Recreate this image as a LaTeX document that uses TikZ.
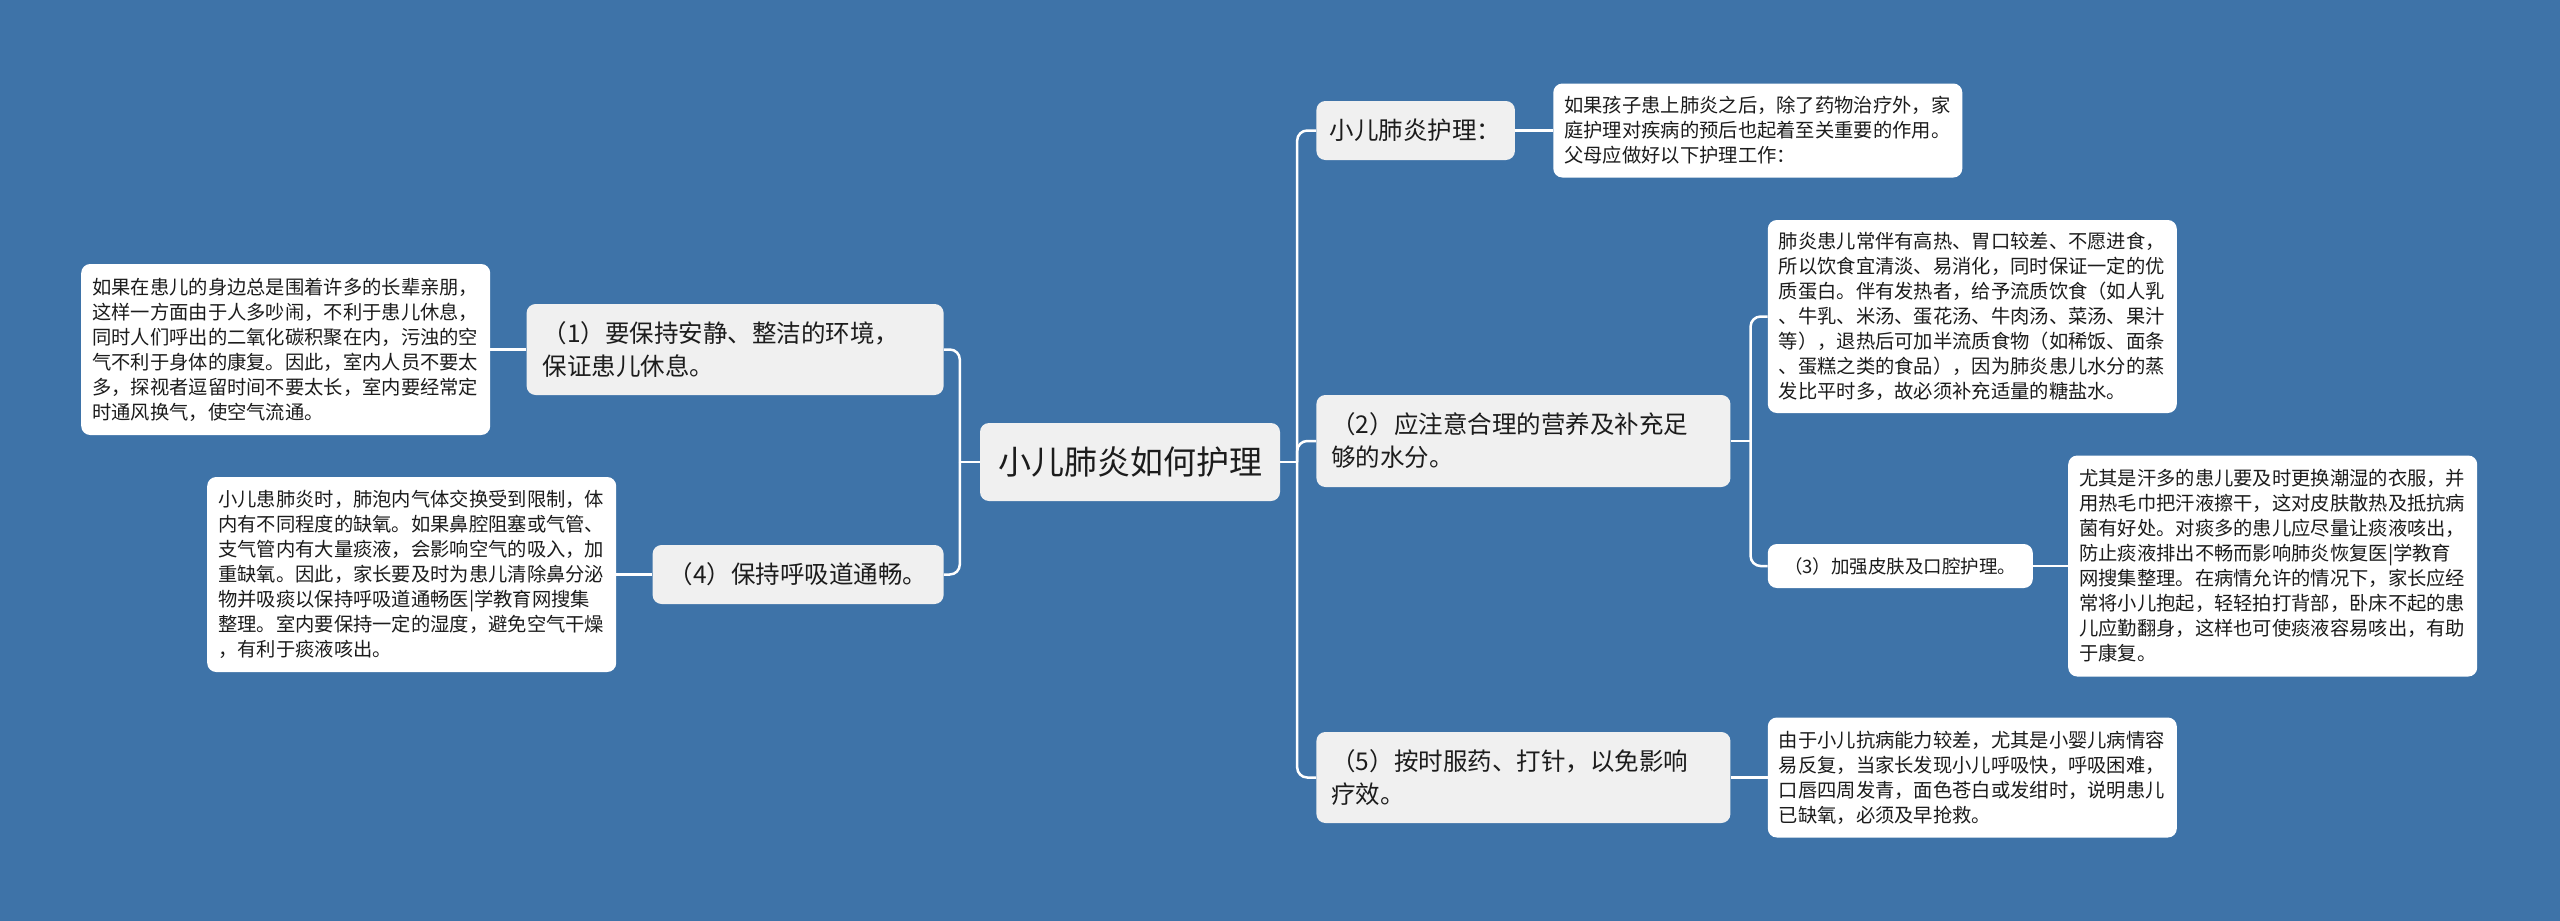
\documentclass[tikz,border=0pt]{standalone}
\usepackage{fontspec}
\setmainfont{Noto Sans CJK SC}
\usepackage{xcolor}
\usepackage{tikz}
\usetikzlibrary{positioning}
\definecolor{canvas}{HTML}{3E73A8}
\definecolor{topicbg}{HTML}{F0F0F0}
\definecolor{ink}{HTML}{1C1C1C}

\begin{document}
\begin{tikzpicture}[
    root/.style={fill=topicbg, rounded corners=9pt, text=ink, inner xsep=18pt, inner ysep=0pt, minimum height=78pt, font=\fontsize{33}{40}\selectfont},
    topic/.style={fill=topicbg, rounded corners=9pt, text=ink, align=left, inner xsep=15pt, inner ysep=0pt, font=\fontsize{24.5}{33}\selectfont},
    leaf/.style={fill=white, rounded corners=9pt, text=ink, align=left, text width=387pt, inner xsep=11pt, inner ysep=0pt, font=\fontsize{19.3}{25}\selectfont},
    link/.style={draw=white, line width=2.5pt, rounded corners=10pt}
]
    \useasboundingbox[fill=canvas] (0pt,0pt) rectangle (2560pt,-921pt);

    % Root
    \node[root] (root) at (1130pt,-462pt) {小儿肺炎如何护理};

    % Right branch
    \node[topic, right=36pt of root, yshift=331.5pt, minimum height=59pt, inner xsep=13.5pt] (tip) {小儿肺炎护理：};
    \node[leaf, right=38pt of tip, minimum height=94pt] (tipleaf) {如果孩子患上肺炎之后，除了药物治疗外，家\\庭护理对疾病的预后也起着至关重要的作用。\\父母应做好以下护理工作：};

    \node[topic, right=36pt of root, yshift=21pt, text width=384pt, minimum height=92pt] (diet) {（2）应注意合理的营养及补充足\\够的水分。};
    \node[leaf, right=37pt of diet, yshift=124.5pt, minimum height=193pt] (dietleaf) {肺炎患儿常伴有高热、胃口较差、不愿进食，\\所以饮食宜清淡、易消化，同时保证一定的优\\质蛋白。伴有发热者，给予流质饮食（如人乳\\、牛乳、米汤、蛋花汤、牛肉汤、菜汤、果汁\\等），退热后可加半流质食物（如稀饭、面条\\、蛋糕之类的食品），因为肺炎患儿水分的蒸\\发比平时多，故必须补充适量的糖盐水。};
    \node[topic, fill=white, right=37pt of diet, yshift=-125pt, minimum width=265pt, minimum height=44pt, inner xsep=12pt, font=\fontsize{18.5}{22}\selectfont] (skin) {（3）加强皮肤及口腔护理。};
    \node[leaf, right=35pt of skin, minimum height=221pt] (skinleaf) {尤其是汗多的患儿要及时更换潮湿的衣服，并\\用热毛巾把汗液擦干，这对皮肤散热及抵抗病\\菌有好处。对痰多的患儿应尽量让痰液咳出，\\防止痰液排出不畅而影响肺炎恢复医|学教育\\网搜集整理。在病情允许的情况下，家长应经\\常将小儿抱起，轻轻拍打背部，卧床不起的患\\儿应勤翻身，这样也可使痰液容易咳出，有助\\于康复。};

    \node[topic, right=36pt of root, yshift=-315.5pt, text width=384pt, minimum height=91pt] (drug) {（5）按时服药、打针，以免影响\\疗效。};
    \node[leaf, right=37pt of drug, minimum height=120pt] (drugleaf) {由于小儿抗病能力较差，尤其是小婴儿病情容\\易反复，当家长发现小儿呼吸快，呼吸困难，\\口唇四周发青，面色苍白或发绀时，说明患儿\\已缺氧，必须及早抢救。};

    % Left branch
    \node[topic, left=36pt of root, yshift=112.5pt, text width=385pt, inner xsep=16pt, minimum height=91pt] (quiet) {（1）要保持安静、整洁的环境，\\保证患儿休息。};
    \node[leaf, left=36pt of quiet, minimum height=171pt] (quietleaf) {如果在患儿的身边总是围着许多的长辈亲朋，\\这样一方面由于人多吵闹，不利于患儿休息，\\同时人们呼出的二氧化碳积聚在内，污浊的空\\气不利于身体的康复。因此，室内人员不要太\\多，探视者逗留时间不要太长，室内要经常定\\时通风换气，使空气流通。};

    \node[topic, left=36pt of root, yshift=-112.5pt, minimum width=291pt, minimum height=59pt, inner xsep=10.5pt] (airway) {（4）保持呼吸道通畅。};
    \node[leaf, left=36pt of airway, minimum height=195pt] (airwayleaf) {小儿患肺炎时，肺泡内气体交换受到限制，体\\内有不同程度的缺氧。如果鼻腔阻塞或气管、\\支气管内有大量痰液，会影响空气的吸入，加\\重缺氧。因此，家长要及时为患儿清除鼻分泌\\物并吸痰以保持呼吸道通畅医|学教育网搜集\\整理。室内要保持一定的湿度，避免空气干燥\\，有利于痰液咳出。};

    % Connectors
    \coordinate (rbus) at ([xshift=17pt]root.east);
    \coordinate (lbus) at ([xshift=-20pt]root.west);
    \coordinate (dietbus) at ([xshift=20pt]diet.east);

    \draw[link] (root.east) -- (rbus);
    \draw[link] (rbus) |- (tip.west);
    \draw[link] (rbus) |- (diet.west);
    \draw[link] (rbus) |- (drug.west);
    \draw[link] (tip) -- (tipleaf);
    \draw[link] (diet.east) -- (dietbus);
    \draw[link] (dietbus) |- (dietleaf.west);
    \draw[link] (dietbus) |- (skin.west);
    \draw[link] (skin) -- (skinleaf);
    \draw[link] (drug) -- (drugleaf);

    \draw[link] (root.west) -- (lbus);
    \draw[link] (lbus) |- (quiet.east);
    \draw[link] (lbus) |- (airway.east);
    \draw[link] (quiet) -- (quietleaf);
    \draw[link] (airway) -- (airwayleaf);
\end{tikzpicture}
\end{document}
